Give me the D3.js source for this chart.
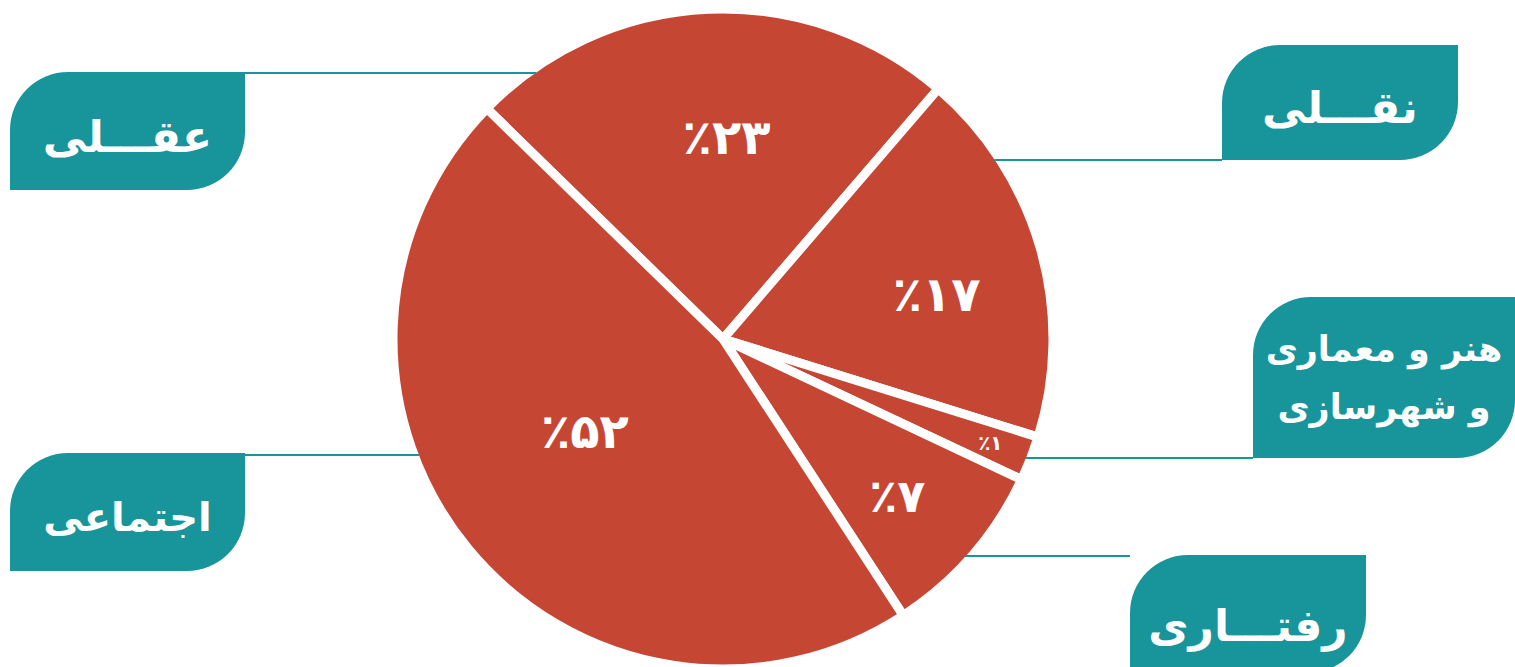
<!DOCTYPE html>
<html>
<head>
<meta charset="utf-8">
<script src="https://cdn.jsdelivr.net/npm/d3@7"></script>
<style>
  body { margin: 0; background: #fff; }
  text { font-family: "DejaVu Sans", sans-serif; font-weight: bold; }
</style>
</head>
<body>
<div id="chart"></div>
<script>
var svgWidth = 1515;
var svgHeight = 667;

// slice shares as drawn, clockwise from upper-left
var categories = ["عقلی", "نقلی", "هنر و معماری و شهرسازی", "رفتاری", "اجتماعی"];
var shares = [24, 18.5, 2.2, 8.8, 46.5];
var percentLabels = ["٪۲۳", "٪۱۷", "٪۱", "٪۷", "٪۵۲"];
var boxLines = [["عقـــلی"], ["نقـــلی"], ["هنر و معماری", "و شهرسازی"], ["رفتـــاری"], ["اجتماعی"]];

// layout (not data)
var cx = 723, cy = 339, radius = 326;
var startDeg = -45.7;
var labelRadius = [0.62, 0.67, 0.88, 0.72, 0.51];
var labelShiftDeg = [3.5, 4, 0, 1, 5.6];
var labelSize = [48, 48, 20, 46, 48];
var boxFont = [44, 44, 35, 44, 40];
var boxes = [
  {x: 10, y: 72, w: 235, h: 118, side: "left", lineY: 73},
  {x: 1222, y: 45, w: 236, h: 115, side: "right", lineY: 160},
  {x: 1253, y: 297, w: 262, h: 161, side: "right", lineY: 458},
  {x: 1130, y: 555, w: 236, h: 118, side: "right", lineY: 556},
  {x: 10, y: 453, w: 235, h: 118, side: "left", lineY: 455}
];

var teal = "#18959a";
var red = "#c64634";

var svg = d3.select("#chart")
  .append("svg")
  .attr("width", svgWidth)
  .attr("height", svgHeight);

// pie
var pie = d3.pie()
  .sort(null)
  .startAngle(startDeg * Math.PI / 180)
  .endAngle((startDeg + 360) * Math.PI / 180);

var arcs = pie(shares);

var arc = d3.arc().innerRadius(0).outerRadius(radius + 4);

var pieGroup = svg.append("g")
  .attr("transform", `translate(${cx}, ${cy})`);

pieGroup.selectAll("path")
  .data(arcs)
  .enter()
  .append("path")
  .attr("d", arc)
  .attr("fill", red)
  .attr("stroke", "#fff")
  .attr("stroke-width", 9)
  .attr("stroke-linejoin", "miter");

pieGroup.selectAll("text")
  .data(arcs)
  .enter()
  .append("text")
  .attr("transform", function(d, i) {
    var a = (d.startAngle + d.endAngle) / 2 + labelShiftDeg[i] * Math.PI / 180;
    var r = radius * labelRadius[i];
    return `translate(${Math.sin(a) * r}, ${-Math.cos(a) * r})`;
  })
  .attr("text-anchor", "middle")
  .attr("dominant-baseline", "central")
  .attr("direction", "ltr")
  .attr("fill", "#fff")
  .attr("font-size", (d, i) => labelSize[i])
  .text((d, i) => percentLabels[i]);

// leader lines, ending on the pie edge
var lines = svg.append("g");
boxes.forEach(function(b) {
  var dy = b.lineY - cy;
  var half = Math.sqrt((radius - 1) * (radius - 1) - dy * dy);
  var x1 = b.side === "left" ? b.x + b.w : b.x;
  var x2 = b.side === "left" ? cx - half : cx + half;
  lines.append("line")
    .attr("x1", x1).attr("x2", x2)
    .attr("y1", b.lineY).attr("y2", b.lineY)
    .attr("stroke", teal)
    .attr("stroke-width", 2);
});

// label boxes
function boxPath(b) {
  var r = 58;
  return `M${b.x},${b.y + r} A${r},${r} 0 0 1 ${b.x + r},${b.y} H${b.x + b.w} V${b.y + b.h - r} A${r},${r} 0 0 1 ${b.x + b.w - r},${b.y + b.h} H${b.x} Z`;
}

var boxGroup = svg.append("g");
boxes.forEach(function(b, i) {
  boxGroup.append("path")
    .attr("d", boxPath(b))
    .attr("fill", teal);
  var rows = boxLines[i];
  var lh = 58;
  var midY = b.y + (i === 3 ? 70 : b.h / 2 + (rows.length > 1 ? 0 : 5));
  rows.forEach(function(t, j) {
    boxGroup.append("text")
      .attr("x", b.x + b.w / 2)
      .attr("y", midY + (j - (rows.length - 1) / 2) * lh)
      .attr("text-anchor", "middle")
      .attr("dominant-baseline", "central")
      .attr("fill", "#fff")
      .attr("font-size", boxFont[i])
      .text(t);
  });
});
</script>
</body>
</html>
